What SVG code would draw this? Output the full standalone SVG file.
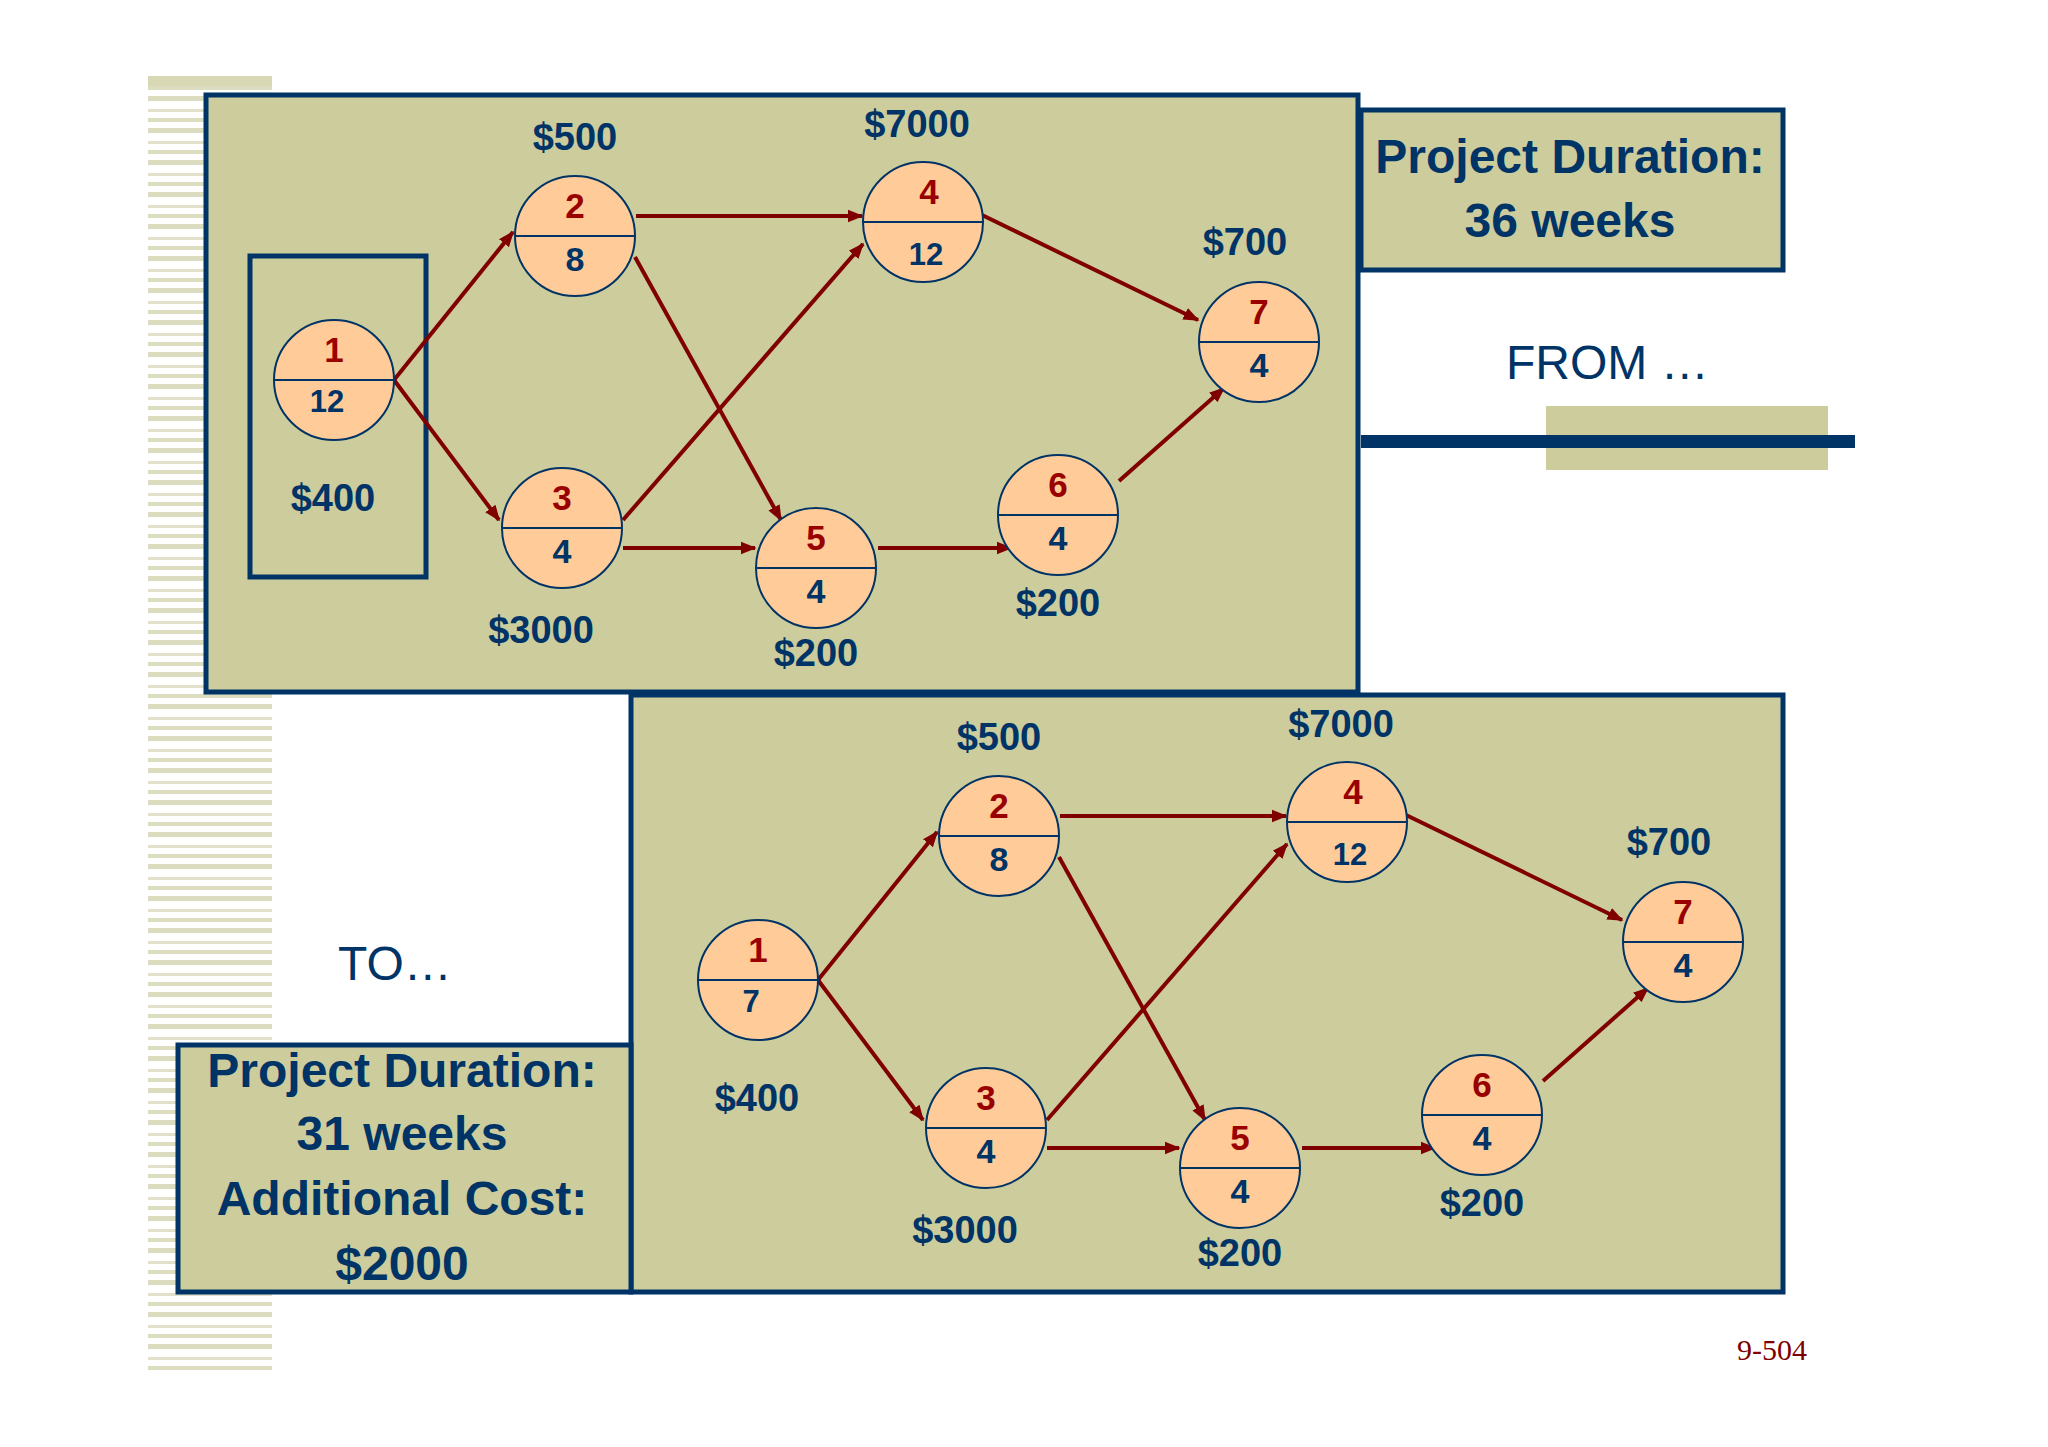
<svg xmlns="http://www.w3.org/2000/svg" width="2048" height="1447" viewBox="0 0 2048 1447">
<style>
.panel{fill:#CCCC9C;stroke:#003366;stroke-width:5}
.nc{fill:#FFCC99;stroke:#003366;stroke-width:2}
.nl{stroke:#003366;stroke-width:2}
.t{font-family:"Liberation Sans",Arial,sans-serif;font-weight:bold;text-anchor:middle}
.top{fill:#990000;font-size:35px}
.bot{fill:#003366;font-size:34px}
.cost{fill:#003366;font-size:38px}
.big{fill:#003366;font-size:48px}
.e{stroke:#800000;stroke-width:4;fill:none;marker-end:url(#ah)}
</style>
<defs>
<marker id="ah" viewBox="0 0 10 10" refX="9" refY="5" markerWidth="4" markerHeight="4" orient="auto" markerUnits="strokeWidth"><path d="M0,1 L10,5 L0,9 Z" fill="#800000"/></marker>
<pattern id="stripes" width="124" height="32" patternUnits="userSpaceOnUse">
<rect x="0" y="0" width="124" height="5" fill="#DCDCC0"/>
<rect x="0" y="13" width="124" height="3" fill="#E2E2CA"/>
<rect x="0" y="22" width="124" height="4" fill="#DCDCC0"/>
</pattern>
</defs>
<rect width="2048" height="1447" fill="#ffffff"/>
<rect x="148" y="78" width="124" height="1292" fill="url(#stripes)"/>
<rect x="148" y="76" width="124" height="10" fill="#D8D8B4"/>
<rect x="1546" y="406" width="282" height="64" fill="#CCCC9C"/>
<rect x="1361" y="435" width="494" height="13" fill="#003366"/>
<rect class="panel" x="206" y="95" width="1152" height="597"/>
<rect class="panel" x="1361" y="110" width="422" height="160"/>
<text class="t big" x="1570" y="173">Project Duration:</text>
<text class="t big" x="1570" y="237">36 weeks</text>
<text x="1506" y="379" style="font-family:'Liberation Sans',Arial,sans-serif;font-size:48px;fill:#003366">FROM …</text>
<rect class="panel" x="631" y="695" width="1152" height="597"/>
<rect class="panel" x="178" y="1045" width="453" height="247"/>
<text class="t big" x="402" y="1087">Project Duration:</text>
<text class="t big" x="402" y="1150">31 weeks</text>
<text class="t big" x="402" y="1215">Additional Cost:</text>
<text class="t big" x="402" y="1280">$2000</text>
<text x="338" y="980" style="font-family:'Liberation Sans',Arial,sans-serif;font-size:48px;fill:#003366">TO…</text>
<text x="1772" y="1360" style="font-family:'Liberation Serif','Times New Roman',serif;font-size:30px;fill:#800000;text-anchor:middle">9-504</text>
<rect x="250" y="256" width="176" height="321" fill="none" stroke="#003366" stroke-width="5"/>

<g id="edges-top">
<path class="e" d="M394,380 L513,232"/>
<path class="e" d="M394,380 L499,520"/>
<path class="e" d="M636,216 L862,216"/>
<path class="e" d="M635,257 L781,520"/>
<path class="e" d="M623,520 L863,244"/>
<path class="e" d="M623,548 L755,548"/>
<path class="e" d="M982,215 L1198,320"/>
<path class="e" d="M878,548 L1011,548"/>
<path class="e" d="M1119,481 L1224,388"/>
</g>
<g id="edges-bottom" transform="translate(424,600)">
<path class="e" d="M394,380 L513,232"/>
<path class="e" d="M394,380 L499,520"/>
<path class="e" d="M636,216 L862,216"/>
<path class="e" d="M635,257 L781,520"/>
<path class="e" d="M623,520 L863,244"/>
<path class="e" d="M623,548 L755,548"/>
<path class="e" d="M982,215 L1198,320"/>
<path class="e" d="M878,548 L1011,548"/>
<path class="e" d="M1119,481 L1224,388"/>
</g>

<g id="top-graph">
<g id="t1"><circle class="nc" cx="334" cy="380" r="60"/><line class="nl" x1="274" y1="380" x2="394" y2="380"/><text class="t top" x="334" y="362">1</text><text class="t bot" x="327" y="412" style="font-size:31px">12</text><text class="t cost" x="333" y="511">$400</text></g>
<g id="t2"><circle class="nc" cx="575" cy="236" r="60"/><line class="nl" x1="515" y1="236" x2="635" y2="236"/><text class="t top" x="575" y="218">2</text><text class="t bot" x="575" y="271">8</text><text class="t cost" x="575" y="150">$500</text></g>
<g id="t3"><circle class="nc" cx="562" cy="528" r="60"/><line class="nl" x1="502" y1="528" x2="622" y2="528"/><text class="t top" x="562" y="510">3</text><text class="t bot" x="562" y="563">4</text><text class="t cost" x="541" y="643">$3000</text></g>
<g id="t4"><circle class="nc" cx="923" cy="222" r="60"/><line class="nl" x1="863" y1="222" x2="983" y2="222"/><text class="t top" x="929" y="204">4</text><text class="t bot" x="926" y="265" style="font-size:31px">12</text><text class="t cost" x="917" y="137">$7000</text></g>
<g id="t5"><circle class="nc" cx="816" cy="568" r="60"/><line class="nl" x1="756" y1="568" x2="876" y2="568"/><text class="t top" x="816" y="550">5</text><text class="t bot" x="816" y="603">4</text><text class="t cost" x="816" y="666">$200</text></g>
<g id="t6"><circle class="nc" cx="1058" cy="515" r="60"/><line class="nl" x1="998" y1="515" x2="1118" y2="515"/><text class="t top" x="1058" y="497">6</text><text class="t bot" x="1058" y="550">4</text><text class="t cost" x="1058" y="616">$200</text></g>
<g id="t7"><circle class="nc" cx="1259" cy="342" r="60"/><line class="nl" x1="1199" y1="342" x2="1319" y2="342"/><text class="t top" x="1259" y="324">7</text><text class="t bot" x="1259" y="377">4</text><text class="t cost" x="1245" y="255">$700</text></g>
</g>

<g id="bottom-graph" transform="translate(424,600)">
<g id="b1"><circle class="nc" cx="334" cy="380" r="60"/><line class="nl" x1="274" y1="380" x2="394" y2="380"/><text class="t top" x="334" y="362">1</text><text class="t bot" x="327" y="412" style="font-size:31px">7</text><text class="t cost" x="333" y="511">$400</text></g>
<g id="b2"><circle class="nc" cx="575" cy="236" r="60"/><line class="nl" x1="515" y1="236" x2="635" y2="236"/><text class="t top" x="575" y="218">2</text><text class="t bot" x="575" y="271">8</text><text class="t cost" x="575" y="150">$500</text></g>
<g id="b3"><circle class="nc" cx="562" cy="528" r="60"/><line class="nl" x1="502" y1="528" x2="622" y2="528"/><text class="t top" x="562" y="510">3</text><text class="t bot" x="562" y="563">4</text><text class="t cost" x="541" y="643">$3000</text></g>
<g id="b4"><circle class="nc" cx="923" cy="222" r="60"/><line class="nl" x1="863" y1="222" x2="983" y2="222"/><text class="t top" x="929" y="204">4</text><text class="t bot" x="926" y="265" style="font-size:31px">12</text><text class="t cost" x="917" y="137">$7000</text></g>
<g id="b5"><circle class="nc" cx="816" cy="568" r="60"/><line class="nl" x1="756" y1="568" x2="876" y2="568"/><text class="t top" x="816" y="550">5</text><text class="t bot" x="816" y="603">4</text><text class="t cost" x="816" y="666">$200</text></g>
<g id="b6"><circle class="nc" cx="1058" cy="515" r="60"/><line class="nl" x1="998" y1="515" x2="1118" y2="515"/><text class="t top" x="1058" y="497">6</text><text class="t bot" x="1058" y="550">4</text><text class="t cost" x="1058" y="616">$200</text></g>
<g id="b7"><circle class="nc" cx="1259" cy="342" r="60"/><line class="nl" x1="1199" y1="342" x2="1319" y2="342"/><text class="t top" x="1259" y="324">7</text><text class="t bot" x="1259" y="377">4</text><text class="t cost" x="1245" y="255">$700</text></g>
</g>
</svg>
